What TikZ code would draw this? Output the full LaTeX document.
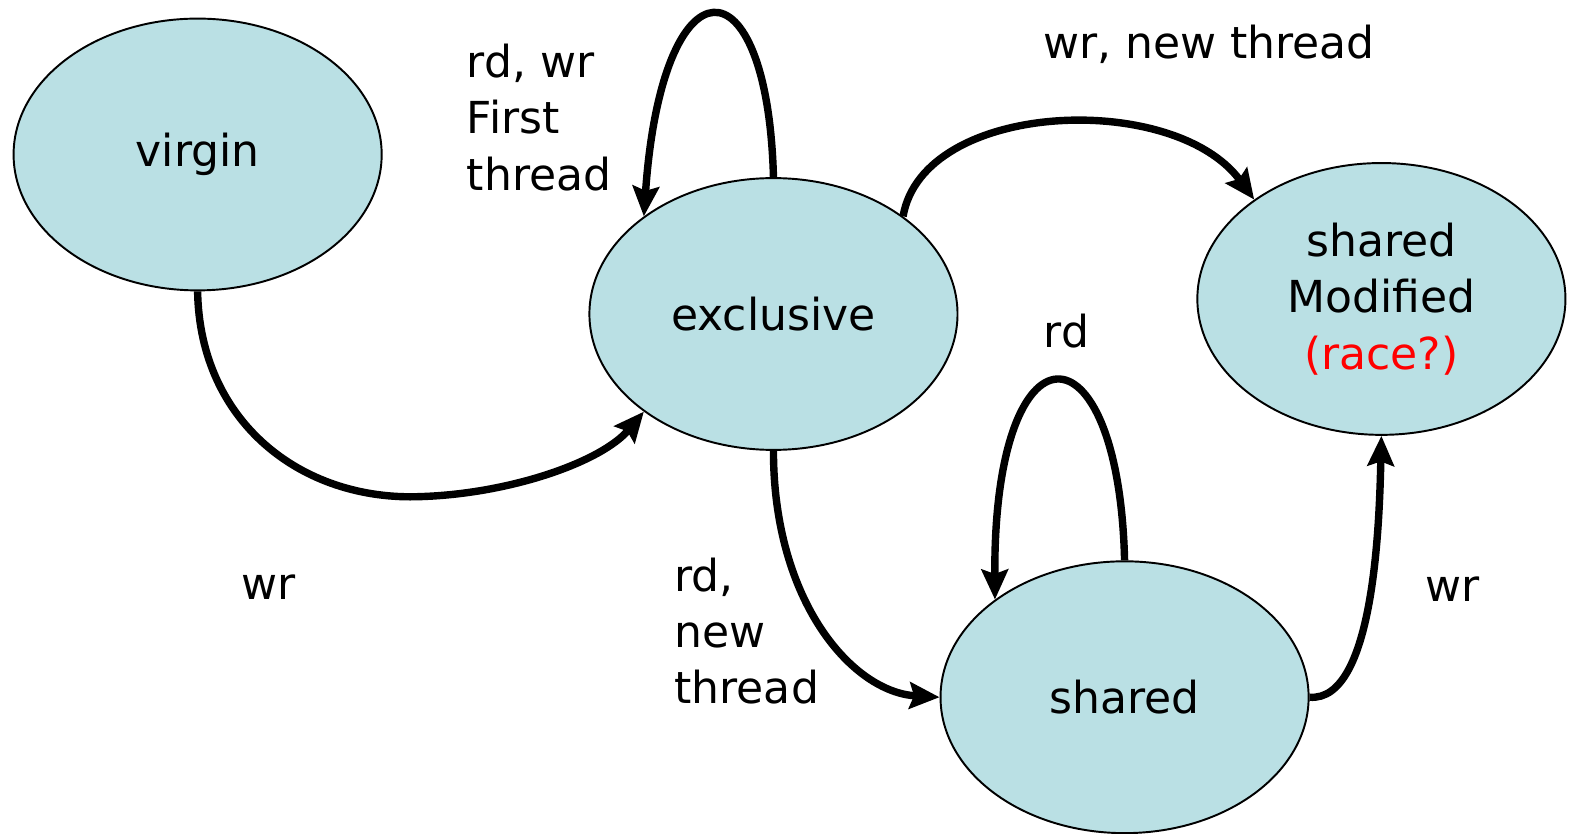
\documentclass[tikz,border=0pt]{standalone}
\usepackage{fontspec}
\setmainfont{DejaVu Sans}
\usetikzlibrary{shapes.geometric,arrows.meta}
\definecolor{statefill}{RGB}{186,224,228}
\definecolor{racered}{RGB}{255,0,0}
\tikzset{
  state/.style={ellipse, draw=black, line width=1.1pt, fill=statefill,
    minimum width=7.34cm, minimum height=5.42cm, inner sep=0pt,
    align=center, font=\fontsize{25}{32}\selectfont},
  lbl/.style={font=\fontsize{25}{32}\selectfont, inner sep=0pt},
  trans/.style={line width=4.2pt,
    -{Stealth[length=17pt,width=15pt,inset=2.5pt]}}
}
\begin{document}
\begin{tikzpicture}[x=0.02cm,y=-0.02cm]
  \useasboundingbox (0,0) rectangle (1568,831);

  % states
  \node[state] (virgin)    at (197,154)  {virgin};
  \node[state] (exclusive) at (771,313)  {exclusive};
  \node[state] (shmod)     at (1377,298) {shared\\Modified\\\textcolor{racered}{(race?)}};
  \node[state] (shared)    at (1121,695) {shared};

  % transition labels
  \node[lbl] (lwr1)   at (268,585)  {wr};
  \node[lbl, anchor=west, align=left] (lfirst) at (465,117) {rd, wr\\First\\thread};
  \node[lbl] (lnew)   at (1205,44)  {wr, new thread};
  \node[lbl, anchor=west, align=left] (lrdnew) at (672,629) {rd,\\new\\thread};
  \node[lbl] (lrd)    at (1063,330) {rd};
  \node[lbl] (lwr2)   at (1448,587) {wr};

  % transitions
  \draw[trans] (virgin.south) .. controls (199,420) and (300,500) .. (420,495)
                              .. controls (510,492) and (600,460) .. (exclusive.217);
  \draw[trans] (exclusive.north) .. controls (765,-45) and (660,-45) .. (exclusive.143);
  \draw[trans] (exclusive.37) .. controls (920,100) and (1170,90) .. (shmod.142);
  \draw[trans] (exclusive.south) .. controls (771,600) and (850,690) .. (shared.west);
  \draw[trans] (shared.north) .. controls (1115,315) and (990,315) .. (shared.143);
  \draw[trans] (shared.east) .. controls (1370,700) and (1375,520) .. (shmod.south);
\end{tikzpicture}
\end{document}
